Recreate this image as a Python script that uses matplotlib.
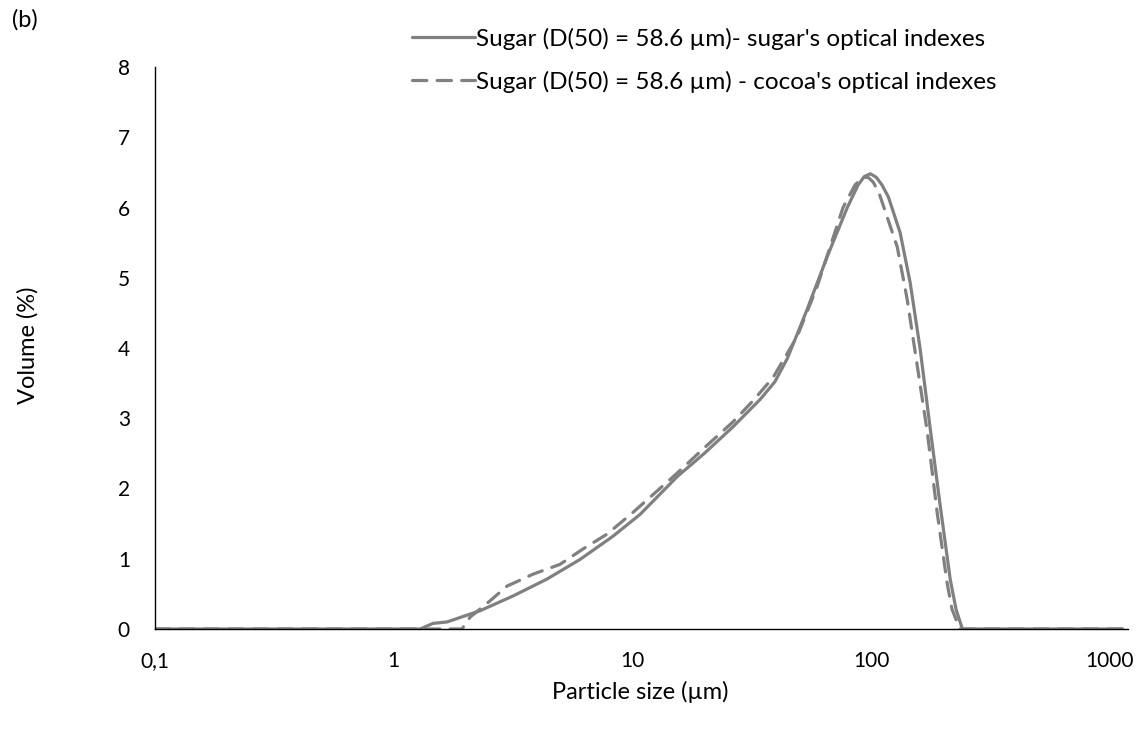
import matplotlib.pyplot as plt
from matplotlib.ticker import FixedLocator, NullLocator

plt.rcParams['font.family'] = ['Lato', 'DejaVu Sans']

# particle size (um) and volume (%)
sugar_x = [0.1, 1.0, 1.29, 1.46, 1.67, 2.30, 3.16, 4.38, 6.03, 8.28, 10.75,
           15.4, 20.0, 26.4, 34.3, 39.5, 44.5, 49.0, 53.9, 65.4, 79.4, 88.1,
           93.5, 99.2, 105, 111, 118, 132.2, 145.6, 160.4, 176.7, 194.6,
           214.4, 227, 241, 400, 1130]
sugar_y = [0, 0, 0, 0.08, 0.10, 0.26, 0.47, 0.71, 0.99, 1.32, 1.63,
           2.17, 2.50, 2.88, 3.27, 3.52, 3.85, 4.20, 4.55, 5.30, 6.00, 6.32,
           6.44, 6.48, 6.43, 6.32, 6.15, 5.64, 4.93, 3.98, 2.85, 1.75,
           0.70, 0.27, 0, 0, 0]

cocoa_x = [0.1, 1.0, 1.93, 2.09, 2.53, 2.98, 3.83, 4.97, 6.21, 7.82, 10.05,
           15.4, 20.0, 26.4, 32.0, 38.8, 48.9, 59.3, 76.2, 85.5, 92.0, 97.0,
           102, 108, 128.5, 141.5, 156, 171.8, 189, 208, 218, 235, 400, 1130]
cocoa_y = [0, 0, 0, 0.17, 0.40, 0.61, 0.78, 0.92, 1.14, 1.35, 1.66,
           2.22, 2.58, 2.95, 3.25, 3.58, 4.16, 4.87, 6.00, 6.32, 6.43, 6.43,
           6.36, 6.20, 5.44, 4.69, 3.74, 2.80, 1.65, 0.65, 0.28, 0, 0, 0]

xticks = [0.1, 1, 10, 100, 1000]
xtick_labels = ['0,1', '1', '10', '100', '1000']
yticks = [0, 1, 2, 3, 4, 5, 6, 7, 8]

grey = '#808080'
W, H = 1142, 733

fig = plt.figure(figsize=(W / 100, H / 100), dpi=100)
ax = fig.add_axes([155 / W, 1 - 629 / H, (1128 - 155) / W, (629 - 67) / H])

ax.plot(sugar_x, sugar_y, color=grey, lw=2.3, solid_capstyle='round',
        label="Sugar (D(50) = 58.6 µm)- sugar's optical indexes")
ax.plot(cocoa_x, cocoa_y, color=grey, lw=2.3, dashes=(4.5, 3.2), dash_capstyle='round',
        label="Sugar (D(50) = 58.6 µm) - cocoa's optical indexes")

ax.set_xscale('log')
ax.set_xlim(0.1, 1190)
ax.set_ylim(0, 8)
ax.xaxis.set_major_locator(FixedLocator(xticks))
ax.xaxis.set_minor_locator(NullLocator())
ax.set_xticklabels(xtick_labels)
ax.set_yticks(yticks)
ax.tick_params(length=0, labelsize=15, colors='black')
ax.tick_params(axis='x', pad=16)
ax.tick_params(axis='y', pad=18)

for s in ['top', 'right']:
    ax.spines[s].set_visible(False)
ax.spines['left'].set_linewidth(1.0)
ax.spines['bottom'].set_linewidth(1.0)

fig.text(640 / W, 1 - 692 / H, 'Particle size (µm)', fontsize=17, ha='center', va='center')
fig.text(28 / W, 1 - 345 / H, 'Volume (%)', fontsize=17, ha='center', va='center',
         rotation=90)

leg = ax.legend(loc='upper left', bbox_to_anchor=(390 / W, 1 - 6 / H),
                bbox_transform=fig.transFigure, frameon=False, fontsize=17.5,
                handlelength=2.6, handletextpad=0.05, labelspacing=0.85)
for line in leg.get_lines():
    line.set_linewidth(2.3)

fig.text(12 / W, 1 - 20 / H, '(b)', fontsize=17, va='center', ha='left')

fig.savefig('out.png', dpi=100)
